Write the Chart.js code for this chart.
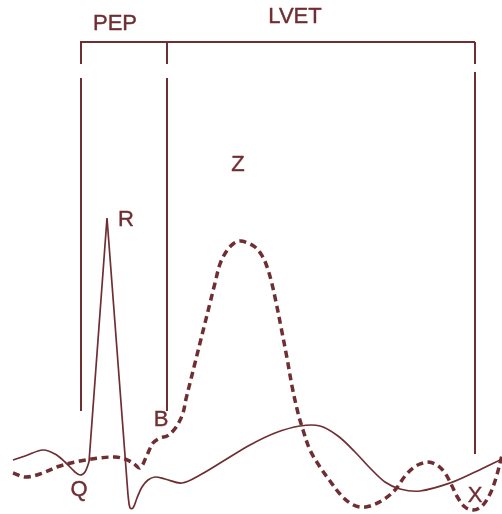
<!DOCTYPE html>
<html>
<head>
<meta charset="utf-8">
<script src="https://cdn.jsdelivr.net/npm/chart.js@4/dist/chart.umd.min.js"></script>
<style>
html,body{margin:0;padding:0;background:#fff;}
#wrap{width:502px;height:514px;position:relative;}
</style>
</head>
<body>
<div id="wrap"><canvas id="c"></canvas></div>
<script>
// time axis (0..502) and amplitude axis (0..514, up positive)
const ecgPreT  = [13,25,43,55,65,75,80,85,89];
const ecgPreA  = [54,58,64,60,52,42,39,42,52];
const ecgSpikeT = [89,107,128];
const ecgSpikeA = [52,296,19];
const ecgPostT = [128,130,133,137,142,148,155,165,182,200,225,250,275,300,320,338,355,370,385,400,420,450,475,502];
const ecgPostA = [19,6,6,16,27,34,37,35,31,39,54,69,81,88,88,78,62,46,32,25,23,31,42,55];
const zT = [13,25,40,60,80,100,115,125,133,140,147,153,160,167,173,178,183,186,190,195,200,205,210,215,220,226,233,240,248,255,261,266,271,276,281,287,292,298,303,310,320,330,340,350,360,370,383,395,405,413,420,428,437,445,452,458,465,473,482,490,496,502];
const zA = [41,37,40,48,53,56,57,55,51,46,59,71,76,78,83,90,101,115,131,151,171,191,211,231,250,262,270,273,271,267,260,250,234,212,187,156,128,101,84,64,47,33,20,11,7,8,14,24,38,46,50,52,49,41,28,16,7,4,8,20,36,59];
// bracket marks
const bracketTop = 472;
const bracketLeft = 80, bracketRight = 475;
const verticals = [[81,472,450],[81,436,103],[167,472,450],[167,436,103],[475,472,450],[475,442,60]];
const labels = [
  {t:'PEP', x:115, y:490},
  {t:'LVET', x:295, y:497},
  {t:'Z', x:238, y:349},
  {t:'R', x:126, y:294},
  {t:'B', x:161, y:94},
  {t:'Q', x:79, y:24},
  {t:'X', x:475, y:18}
];
const COL = '#6f2e32';
const pts = (T,A)=>T.map((t,i)=>({x:t,y:A[i]}));
const datasets = [
  {data:pts(ecgPreT,ecgPreA), borderWidth:1.7, tension:0.35},
  {data:pts(ecgSpikeT,ecgSpikeA), borderWidth:1.7, tension:0},
  {data:pts(ecgPostT,ecgPostA), borderWidth:1.7, tension:0.35},
  {data:pts(zT,zA), borderWidth:3.5, borderDash:[7,4.5], tension:0.35},
  {data:[{x:bracketLeft,y:bracketTop},{x:bracketRight,y:bracketTop}], borderWidth:2, tension:0}
];
verticals.forEach(v=>datasets.push({data:[{x:v[0],y:v[1]},{x:v[0],y:v[2]}], borderWidth:2, tension:0}));
datasets.forEach(d=>{d.borderColor=COL; d.pointRadius=0; d.fill=false; d.clip=false; d.borderCapStyle='butt';});

const labelPlugin = {
  id:'labels',
  afterDatasetsDraw(chart){
    const {ctx, scales:{x,y}} = chart;
    ctx.save();
    ctx.fillStyle = COL;
    ctx.strokeStyle = COL; ctx.lineWidth = 0.4;
    ctx.font = '22px "Liberation Sans", Arial, sans-serif';
    ctx.textAlign='center'; ctx.textBaseline='middle';
    labels.forEach(l=>{
      const px = x.getPixelForValue(l.x), py = y.getPixelForValue(l.y);
      ctx.fillText(l.t, px, py);
      ctx.strokeText(l.t, px, py);
    });
    ctx.restore();
  }
};

new Chart(document.getElementById('c'), {
  type:'line',
  data:{datasets},
  options:{
    responsive:true, maintainAspectRatio:false, animation:false,
    layout:{padding:0},
    plugins:{legend:{display:false}, tooltip:{enabled:false}},
    events:[],
    scales:{
      x:{type:'linear', min:0, max:502, display:false},
      y:{type:'linear', min:0, max:514, display:false}
    }
  },
  plugins:[labelPlugin]
});
</script>
</body>
</html>
